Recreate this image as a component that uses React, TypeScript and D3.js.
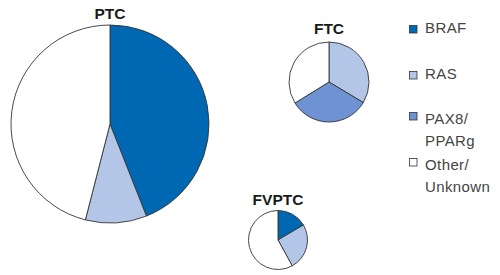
import React from "react";
import * as d3 from "d3";

const categories = ["BRAF", "RAS", "PAX8/PPARg", "Other/Unknown"];
const legendLines = [["BRAF"], ["RAS"], ["PAX8/", "PPARg"], ["Other/", "Unknown"]];
const colors = ["#0068b3", "#b4c6e7", "#6f93d2", "#ffffff"];

const pieNames = ["PTC", "FTC", "FVPTC"];
const ptcValues = [44, 10, 0, 46];
const ftcValues = [0, 33.6, 32.6, 33.8];
const fvptcValues = [16.5, 25.5, 0, 58];
const seriesValues = [ptcValues, ftcValues, fvptcValues];

const layout = [
  { cx: 110, cy: 124, r: 99, ty: 19 },
  { cx: 329, cy: 82, r: 40, ty: 34 },
  { cx: 278, cy: 240, r: 29.5, ty: 204.5 },
];

export default function App() {
  const pie = d3.pie<number>().sort(null).value((d) => d);
  const legendY = [33, 79, 124, 170];
  return (
    <svg width={500} height={275} style={{ position: "absolute", left: 0, top: 0, background: "#fff" }}>
      {pieNames.map((name, pi) => {
        const L = layout[pi];
        const arc = d3.arc<d3.PieArcDatum<number>>().innerRadius(0).outerRadius(L.r);
        const arcs = pie(seriesValues[pi]);
        return (
          <g key={name}>
            <g transform={`translate(${L.cx},${L.cy})`}>
              {arcs.map((a, i) =>
                a.value > 0 ? (
                  <path key={i} d={arc(a) || ""} fill={colors[i]} stroke="#333" strokeWidth={0.9} strokeLinejoin="round" />
                ) : null
              )}
            </g>
            <text x={L.cx} y={L.ty} textAnchor="middle" fontFamily="Liberation Sans, Arial, sans-serif" fontWeight="bold" fontSize={15.5} fill="#1a1a1a">
              {name}
            </text>
          </g>
        );
      })}
      {categories.map((c, i) => (
        <g key={c}>
          <rect x={409.5} y={legendY[i] - (legendLines[i].length > 1 ? 11.5 : 7.5)} width={7.5} height={7.5} fill={colors[i]} stroke="#333" strokeWidth={0.8} />
          {legendLines[i].map((t, j) => (
            <text key={j} x={425} y={legendY[i] + j * 22} fontFamily="Liberation Sans, Arial, sans-serif" fontSize={15} fill="#444" letterSpacing={0.4}>
              {t}
            </text>
          ))}
        </g>
      ))}
    </svg>
  );
}
